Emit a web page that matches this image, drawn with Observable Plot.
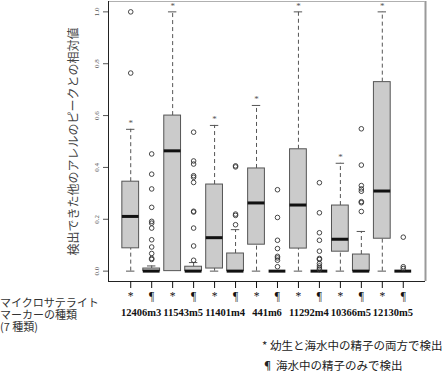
<!DOCTYPE html>
<html><head><meta charset="utf-8">
<script src="https://cdn.jsdelivr.net/npm/d3@7"></script>
<script src="https://cdn.jsdelivr.net/npm/@observablehq/plot@0.6"></script>
<style>
body{margin:0;background:#fff;}
#wrap{position:relative;width:445px;height:374px;overflow:hidden;}
.jp{font-family:"Noto Sans CJK JP","Noto Sans",sans-serif;}
#left{position:absolute;left:0;top:296px;font-size:11px;line-height:12px;color:#333;white-space:nowrap;}
#left div{height:12px;}
#legend{position:absolute;left:262px;top:335px;font-size:11.5px;line-height:20px;color:#222;white-space:nowrap;}
</style></head><body><div id="wrap"></div>
<script>
// ---- data ----
const markers = ["12406m3","11543m5","11401m4","441m6","11292m4","10366m5","12130m5"];
const types = ["*","¶"];
// 14 boxes in order: marker1 *, marker1 ¶, marker2 *, ...
const whiskerLow  = [0,0,0,0,0,0,0,0,0,0,0,0,0,0];
const q1          = [0.088,0,0,0,0.010,0,0.102,0,0.087,0,0.075,0,0.125,0];
const median      = [0.211,0,0.464,0,0.129,0,0.263,0,0.255,0,0.123,0,0.309,0];
const q3          = [0.345,0.010,0.600,0.017,0.334,0.068,0.396,0,0.470,0,0.253,0.064,0.729,0];
const whiskerHigh = [0.547,0.020,1.0,0.033,0.562,0.160,0.639,0,1.0,0,0.416,0.153,1.0,0];
const outliers = [
  [1.0,0.764],
  [0.452,0.374,0.317,0.246,0.192,0.185,0.166,0.121,0.093,0.068,0.049,0.045],
  [],
  [0.536,0.425,0.413,0.368,0.362,0.342,0.231,0.228,0.166,0.097,0.042],
  [],
  [0.406,0.402,0.220,0.215,0.179],
  [],
  [0.314,0.207,0.119,0.087,0.057,0.051,0.042,0.017],
  [],
  [0.341,0.225,0.148,0.119,0.077,0.049,0.045,0.029,0.020,0.012,0.006],
  [],
  [0.549,0.409,0.330,0.317,0.308,0.268,0.264,0.230],
  [],
  [0.131,0.017,0.010]
];
const yTicks = [0,0.2,0.4,0.6,0.8,1.0];
const yTitle = "検出できた他のアレルのピークとの相対値";
const leftLines = ["マイクロサテライト","マーカーの種類","(7 種類)"];
const legendLines = ["* 幼生と海水中の精子の両方で検出","¶ 海水中の精子のみで検出"];

// ---- build tables ----
const boxes = markers.flatMap((m,i)=>types.map((t,j)=>{
  const k = 2*i+j;
  return {marker:m,type:t,pos:k+1,lo:whiskerLow[k],q1:q1[k],med:median[k],q3:q3[k],hi:whiskerHigh[k]};
}));
const outRows = boxes.flatMap((b,k)=>outliers[k].map(v=>({pos:b.pos,v})));
const xDom = [-0.06, 15.06];
const yDom = [-0.04, 1.04];
const boxGray = "#555";

const chart = Plot.plot({
  width:445, height:374,
  marginLeft:108, marginRight:20, marginTop:1, marginBottom:93,
  x:{domain:xDom},
  y:{domain:yDom},
  style:{background:"white", fontFamily:"'Liberation Serif','Times New Roman',serif", overflow:"visible"},
  marks:[
    Plot.ruleX([xDom[1]],{stroke:"#9a9a9a",strokeWidth:2}),
    Plot.ruleY([yDom[1]],{stroke:"#b0b0b0",strokeWidth:1}),
    Plot.ruleX([xDom[0]],{stroke:"#222"}),
    Plot.ruleY([yDom[0]],{stroke:"#222"}),
    // whiskers
    Plot.ruleX(boxes.filter(d=>d.hi>d.q3),{x:"pos",y1:"q3",y2:"hi",stroke:boxGray,strokeDasharray:"4,3"}),
    Plot.ruleX(boxes.filter(d=>d.lo<d.q1),{x:"pos",y1:"lo",y2:"q1",stroke:boxGray,strokeDasharray:"4,3"}),
    Plot.ruleY(boxes.filter(d=>d.hi>d.q3),{x1:d=>d.pos-0.2,x2:d=>d.pos+0.2,y:"hi",stroke:boxGray}),
    Plot.ruleY(boxes.filter(d=>d.lo<d.q1),{x1:d=>d.pos-0.2,x2:d=>d.pos+0.2,y:"lo",stroke:boxGray}),
    // boxes
    Plot.rect(boxes.filter(d=>d.q3>d.q1),{x1:d=>d.pos-0.4,x2:d=>d.pos+0.4,y1:"q1",y2:"q3",fill:"#cbcbcb",stroke:boxGray,strokeWidth:1}),
    Plot.ruleY(boxes,{x1:d=>d.pos-0.4,x2:d=>d.pos+0.4,y:"med",stroke:"#111",strokeWidth:3}),
    // outliers
    Plot.dot(outRows,{x:"pos",y:"v",r:2.3,stroke:"#333",strokeWidth:0.9,fill:"none"}),
    // asterisks above whiskers
    Plot.text(boxes.filter(d=>d.type==="*"),{x:"pos",y:"hi",text:"type",dy:-6,fontSize:9,fill:"#555"}),
    // axes
    Plot.axisY({ticks:yTicks,tickFormat:d3.format(".1f"),tickSize:5,tickRotate:-90,tickPadding:5,fontSize:7,label:null,color:"#555"}),
    Plot.axisX({ticks:boxes.map(d=>d.pos),tickFormat:p=>boxes[p-1].type,tickSize:7,tickPadding:3,fontSize:11.5,label:null,color:"#111"}),
    // marker names
    Plot.text(markers,{x:(d,i)=>2*i+1.5,frameAnchor:"bottom",dy:34,text:d=>d,fontSize:10.5,fontWeight:"bold",fill:"#111"}),
    // y title
    Plot.text([yTitle],{frameAnchor:"left",textAnchor:"middle",rotate:-90,dx:-34,text:d=>d,fontSize:12,fill:"#444",fontFamily:"'Noto Sans CJK JP',sans-serif"})
  ]
});
const wrap = document.getElementById("wrap");
wrap.appendChild(chart);
const left = document.createElement("div");
left.id="left"; left.className="jp";
left.innerHTML = leftLines.map(s=>`<div>${s}</div>`).join("");
wrap.appendChild(left);
const leg = document.createElement("div");
leg.id="legend"; leg.className="jp";
leg.innerHTML = legendLines.map(s=>`<div>${s}</div>`).join("");
wrap.appendChild(leg);
</script></body></html>
